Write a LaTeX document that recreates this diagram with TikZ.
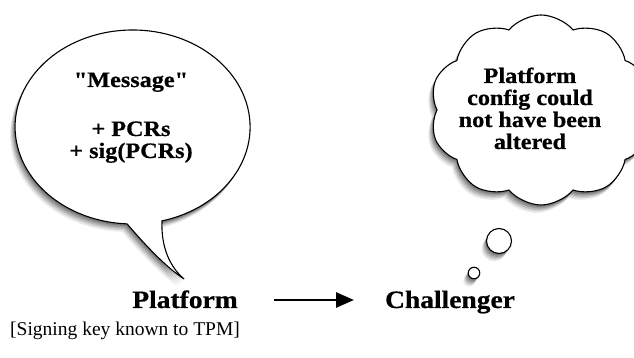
\documentclass[tikz,border=0pt]{standalone}
\usepackage{fontspec}
\setmainfont{Liberation Serif}
\newfontfamily\bfwide[FakeStretch=1.1,FakeBold=0.6]{Liberation Serif}
\usetikzlibrary{shapes.symbols,arrows.meta,shadows}
\tikzset{
  softshadow/.style={
    preaction={fill=black,opacity=0.07,transform canvas={xshift=-5pt,yshift=-8pt}},
    preaction={fill=black,opacity=0.10,transform canvas={xshift=-4pt,yshift=-6.5pt}},
    preaction={fill=black,opacity=0.13,transform canvas={xshift=-3pt,yshift=-5pt}},
    preaction={fill=black,opacity=0.16,transform canvas={xshift=-2pt,yshift=-3.5pt}},
    preaction={fill=black,opacity=0.18,transform canvas={xshift=-1pt,yshift=-2pt}}},
  bubble/.style={draw=black,line width=1.1pt,fill=white,softshadow},
  btext/.style={font=\bfwide\bfseries\fontsize{22}{24}\selectfont,inner sep=0pt,anchor=base},
  label/.style={font=\bfwide\bfseries\fontsize{25}{28}\selectfont,inner sep=0pt,anchor=base},
  note/.style={font=\fontsize{19.5}{22}\selectfont,inner sep=0pt,anchor=base west},
  arr/.style={line width=2.8pt,-{Triangle[length=18pt,width=15pt]}}
}
\begin{document}
\begin{tikzpicture}[x=1pt,y=1pt]
\useasboundingbox (0,0) rectangle (634,358);
\fill[white] (0,0) rectangle (634,358);
% speech bubble
\draw[bubble] (162,137.1) arc[start angle=284.5,end angle=627.3,x radius=117.5pt,y radius=97pt]
  .. controls (146,112) and (167,90) .. (184,79)
  .. controls (169,92) and (161,112) .. (162,137.1) -- cycle;
\node[btext] (msg) at (131,271) {"Message"};
\node[btext] (pcr) at (131,222) {+ PCRs};
\node[btext] (sig) at (131,200) {+ sig(PCRs)};
% thought cloud
\node[cloud,cloud puffs=10,cloud puff arc=100,aspect=1.2,minimum width=222pt,minimum height=190pt,
      bubble,inner sep=0pt] (cloud) at (541,248) {};
\node[btext] (t1) at (530,275) {Platform};
\node[btext] (t2) at (530,253) {config could};
\node[btext] (t3) at (530,231) {not have been};
\node[btext] (t4) at (530,209) {altered};
\node[circle,bubble,minimum size=25pt,inner sep=0pt] (c1) at (499,117) {};
\node[circle,bubble,minimum size=11.5pt,inner sep=0pt] (c2) at (474,85) {};
% labels
\node[label] (plat) at (185,50) {Platform};
\node[label] (chal) at (450,50) {Challenger};
\node[note] (key) at (10,22) {[Signing key known to TPM]};
\coordinate (a1) at (274,58);
\coordinate (a2) at (354,58);
\draw[arr] (a1) -- (a2);
\end{tikzpicture}
\end{document}
